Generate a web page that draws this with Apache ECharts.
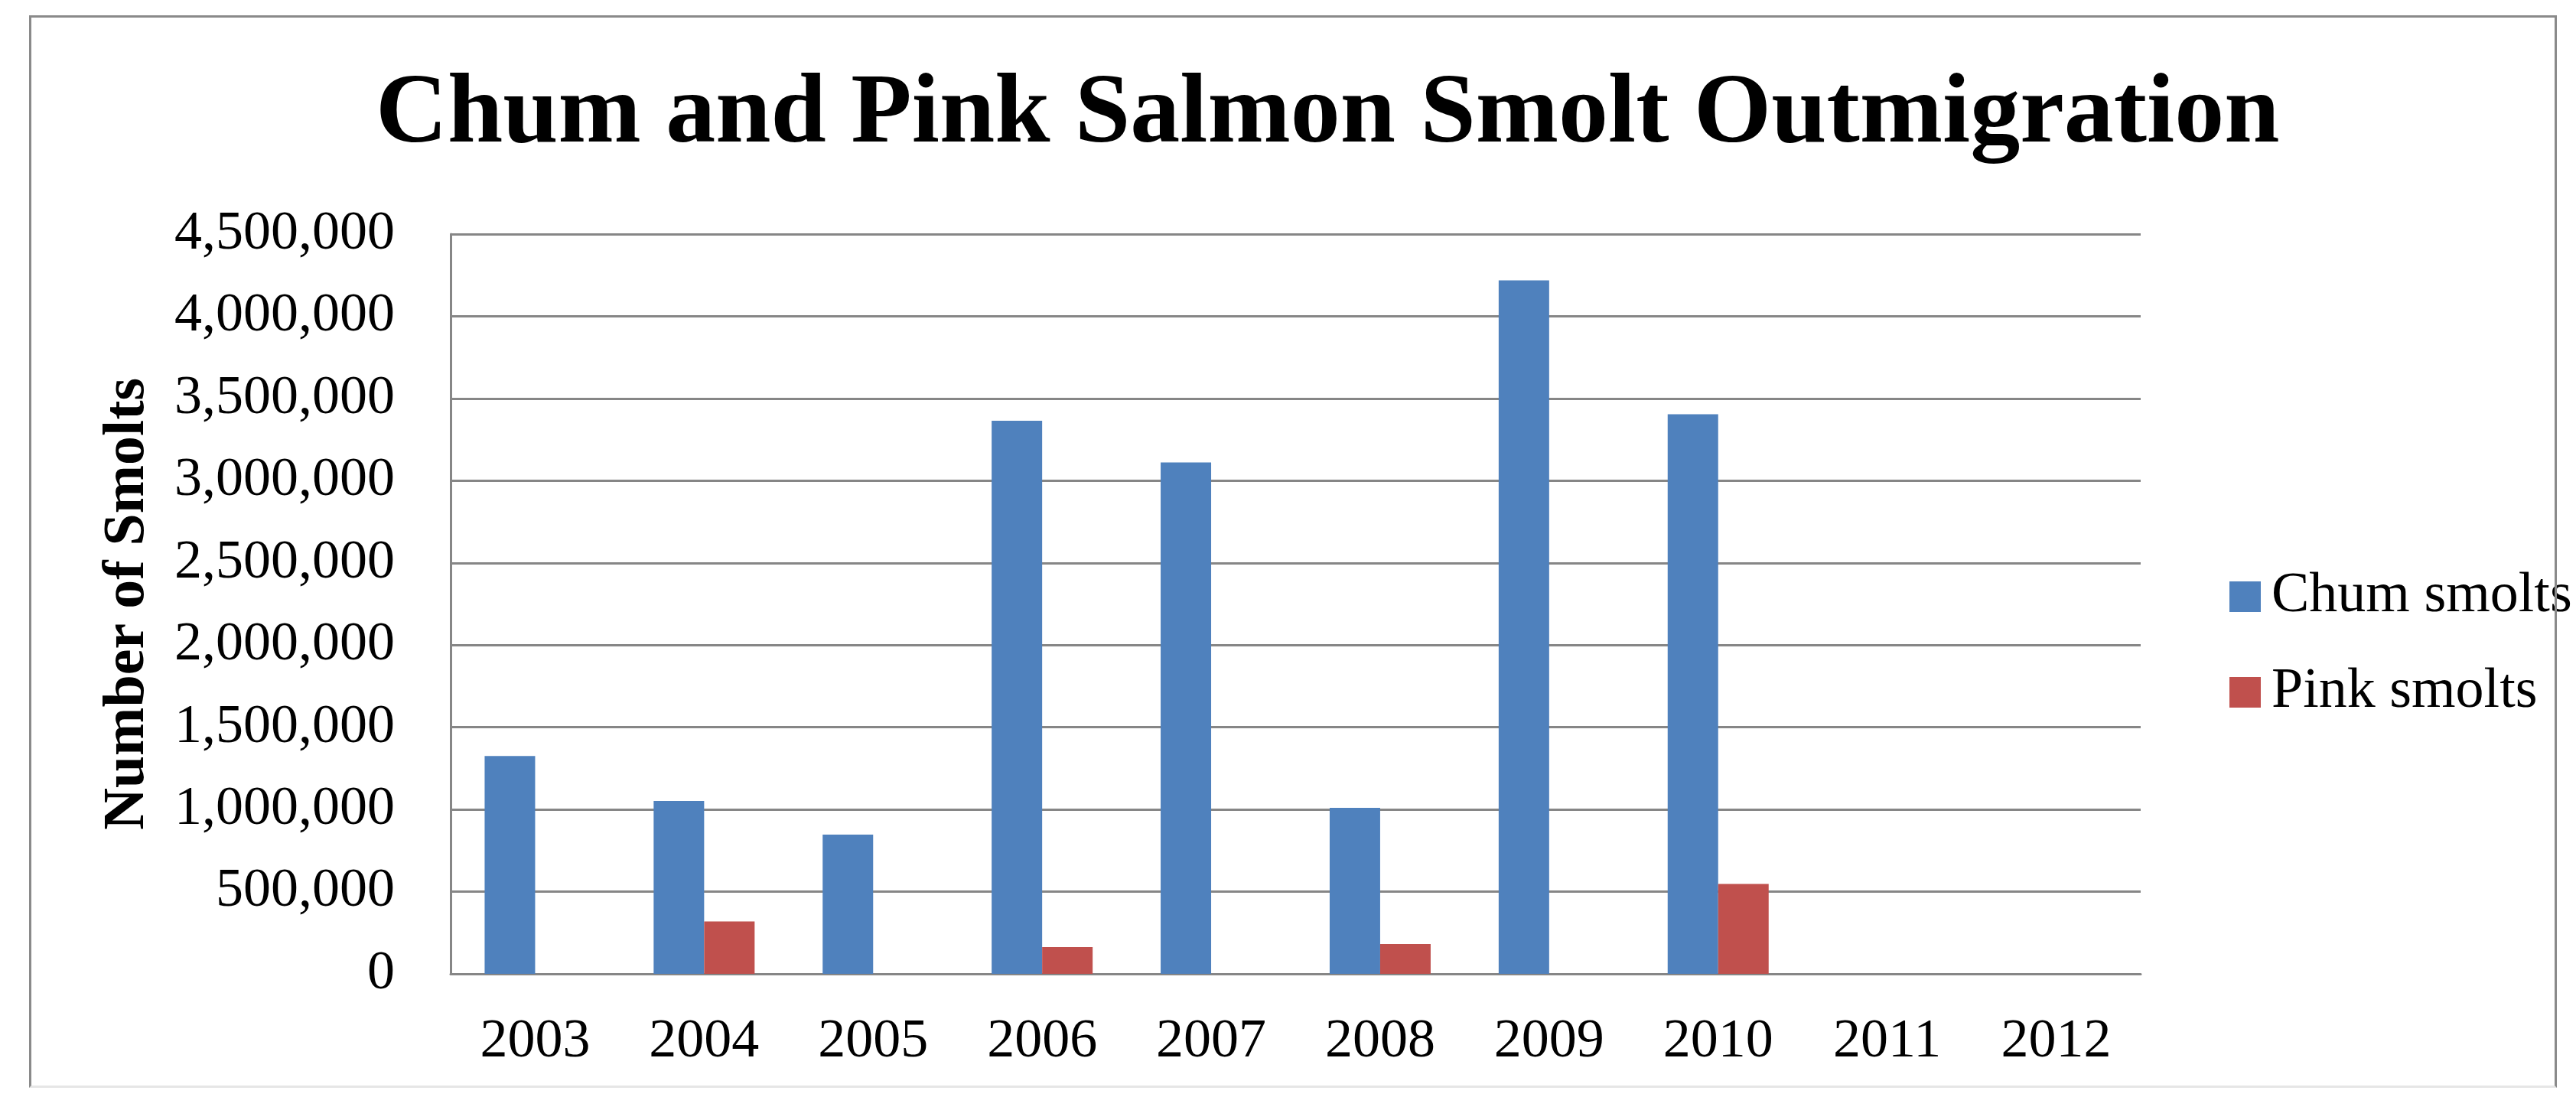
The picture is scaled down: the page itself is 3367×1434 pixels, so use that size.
<!DOCTYPE html>
<html>
<head>
<meta charset="utf-8">
<script src="https://cdn.jsdelivr.net/npm/echarts@6/dist/echarts.min.js"></script>
<style>
  html, body { margin: 0; padding: 0; background: #fff; }
  #chart { width: 3367px; height: 1434px; }
  .frame { position: absolute; left: 38px; top: 20px; width: 3298px; height: 1396px;
           border: 3px solid #8a8a8a; border-bottom-color: #e6e6e6; pointer-events: none; }
</style>
</head>
<body>
<div id="chart"></div>
<div class="frame"></div>
<script>
const years = ['2003', '2004', '2005', '2006', '2007', '2008', '2009', '2010', '2011', '2012'];
const chumSmolts = [1325000, 1052000, 847000, 3365000, 3111000, 1010000, 4218000, 3404000, null, null];
const pinkSmolts = [null, 319000, null, 163000, null, 182000, null, 547000, null, null];
const yTicks = { min: 0, max: 4500000, interval: 500000 };

const serif = '"Liberation Serif", "DejaVu Serif", serif';

const chart = echarts.init(document.getElementById('chart'));

chart.setOption({
  backgroundColor: '#fff',
  animation: false,
  title: {
    text: 'Chum and Pink Salmon Smolt Outmigration',
    left: 491,
    top: 86,
    padding: 0,
    textStyle: { fontFamily: serif, fontWeight: 'bold', fontSize: 130, color: '#000', lineHeight: 130 }
  },
  legend: {
    orient: 'vertical',
    left: 2909,
    top: 738,
    itemWidth: 41,
    itemHeight: 40,
    itemGap: 51,
    icon: 'rect',
    textStyle: { fontFamily: serif, fontSize: 74, lineHeight: 74, color: '#000', padding: [0, 0, 0, 9] }
  },
  grid: { left: 589, right: 569, top: 306, bottom: 161 },
  xAxis: {
    type: 'category',
    data: years,
    axisLine: { lineStyle: { color: '#868686', width: 3 } },
    axisTick: { show: false },
    axisLabel: { fontFamily: serif, fontSize: 72, lineHeight: 72, color: '#000', margin: 53 }
  },
  yAxis: {
    type: 'value',
    min: yTicks.min,
    max: yTicks.max,
    interval: yTicks.interval,
    name: 'Number of Smolts',
    nameLocation: 'middle',
    nameGap: 384,
    nameTextStyle: { fontFamily: serif, fontWeight: 'bold', fontSize: 76, color: '#000' },
    axisLine: { show: true, lineStyle: { color: '#868686', width: 3 } },
    axisTick: { show: false },
    splitLine: { lineStyle: { color: '#868686', width: 3 } },
    axisLabel: {
      fontFamily: serif, fontSize: 72, color: '#000', margin: 73,
      formatter: v => v.toLocaleString('en-US')
    }
  },
  series: [
    { name: 'Chum smolts', type: 'bar', data: chumSmolts, barWidth: 66, barGap: '0%',
      itemStyle: { color: '#4F81BD' } },
    { name: 'Pink smolts', type: 'bar', data: pinkSmolts, barWidth: 66, barGap: '0%',
      itemStyle: { color: '#C0504D' } }
  ]
});
</script>
</body>
</html>
